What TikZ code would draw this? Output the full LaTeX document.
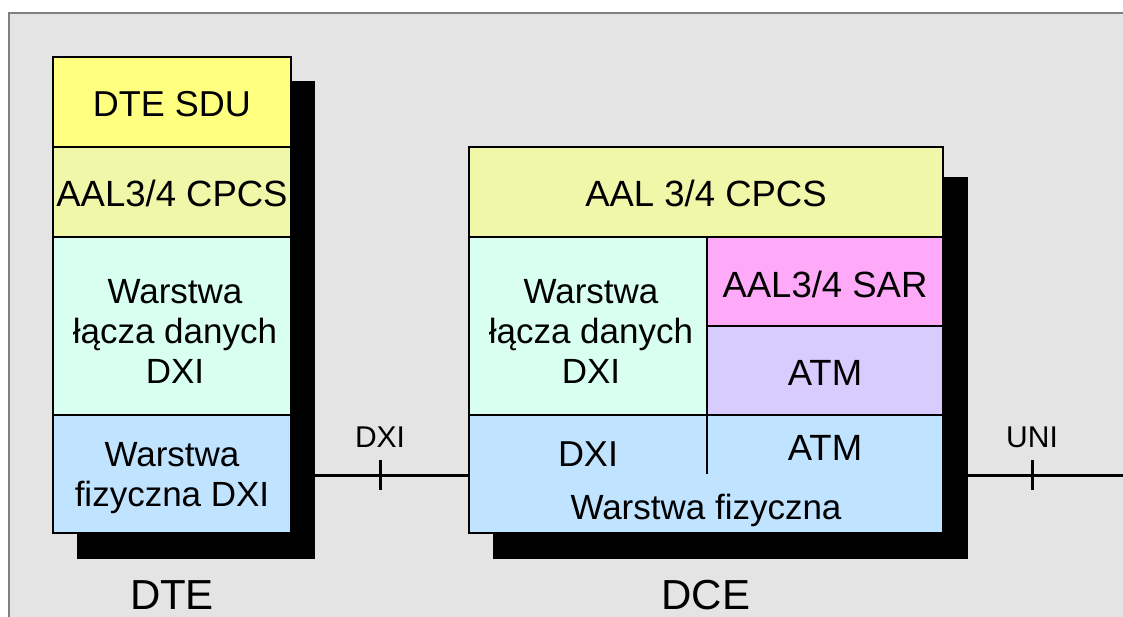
\documentclass[tikz,border=0pt]{standalone}
\usepackage{fontspec}
\setmainfont{Liberation Sans}
\definecolor{bggray}{HTML}{E4E4E4}
\definecolor{framegray}{HTML}{808080}
\definecolor{sducol}{HTML}{FFFF80}
\definecolor{cpcscol}{HTML}{F0F7A8}
\definecolor{mintcol}{HTML}{D8FFF0}
\definecolor{bluecol}{HTML}{C0E4FF}
\definecolor{sarcol}{HTML}{FFAAF8}
\definecolor{atmcol}{HTML}{D8CCFF}
\tikzset{
  layer/.style={draw=black, line width=2.5pt, rectangle, inner sep=0pt, align=center,
    font=\fontsize{36.5}{42}\selectfont},
  shadowbox/.style={fill=black, draw=none, rectangle, inner sep=0pt},
  lbl/.style={inner sep=0pt, align=center, font=\fontsize{35}{40}\selectfont},
  small/.style={inner sep=0pt, font=\fontsize{30}{34}\selectfont},
  big/.style={inner sep=0pt, font=\fontsize{42}{48}\selectfont},
  wire/.style={line width=3pt, black}
}
\begin{document}
\begin{tikzpicture}[x=1pt,y=-1pt]
\useasboundingbox (0,0) rectangle (1123,616);
% frame
\fill[white] (0,0) rectangle (1123,616);
\fill[bggray] (9,13) rectangle (1130,620);
\draw[framegray, line width=1.2pt] (9,620) -- (9,13) -- (1130,13);
% shadows
\node[shadowbox, minimum width=238, minimum height=478] (dtesh) at (196,320) {};
\node[shadowbox, minimum width=475, minimum height=382] (dcesh) at (730.5,368) {};
% DTE stack
\node[layer, fill=sducol, minimum width=238, minimum height=90] (sdu) at (172,102) {};
\node[layer, fill=cpcscol, minimum width=238, minimum height=90] (cpcs1) at (172,192) {};
\node[layer, fill=mintcol, minimum width=238, minimum height=178] (dll1) at (172,326) {};
\node[layer, fill=bluecol, minimum width=238, minimum height=118] (phy1) at (172,474) {};
\node[lbl, font=\fontsize{36}{42}\selectfont] (sdut) at (172,104) {DTE SDU};
\node[lbl, font=\fontsize{36.5}{42}\selectfont] (cpcs1t) at (172,193) {AAL3/4 CPCS};
\node[lbl] (dll1t) at (175,331) {Warstwa\\łącza danych\\DXI};
\node[lbl] (phy1t) at (172,478) {Warstwa\\fizyczna DXI};
% DCE stack
\node[layer, fill=cpcscol, minimum width=474, minimum height=90] (cpcs2) at (706,192) {};
\node[layer, fill=bluecol, minimum width=474, minimum height=118] (phy2) at (706,474) {};
\node[layer, fill=mintcol, minimum width=238, minimum height=178] (dll2) at (588,326) {};
\node[layer, fill=sarcol, minimum width=236, minimum height=89] (sar) at (825,281.5) {};
\node[layer, fill=atmcol, minimum width=236, minimum height=89] (atm1) at (825,370.5) {};
\node[lbl, font=\fontsize{36.5}{42}\selectfont] (cpcs2t) at (706,193) {AAL 3/4 CPCS};
\node[lbl, font=\fontsize{36.5}{42}\selectfont] (sart) at (825,284) {AAL3/4 SAR};
\node[lbl, font=\fontsize{36.5}{42}\selectfont] (atm1t) at (825,373) {ATM};
\node[lbl] (dll2t) at (591,331) {Warstwa\\łącza danych\\DXI};
\coordinate (divtop) at (707,415);
\coordinate (divbot) at (707,474);
\draw[line width=2.5pt] (divtop) -- (divbot);
\node[lbl, font=\fontsize{36}{42}\selectfont] (dxi2) at (588,454) {DXI};
\node[lbl, font=\fontsize{36.5}{42}\selectfont] (atm2) at (825,448) {ATM};
\node[lbl] (phyt) at (706,510) {Warstwa fizyczna};
% connectors
\coordinate (dxiTick) at (380,475);
\coordinate (uniTick) at (1032,475);
\coordinate (uniEnd) at (1123,475);
\draw[wire] (dtesh.east |- dxiTick) -- (phy2.west |- dxiTick);
\draw[wire] ([yshift=-15pt]dxiTick) -- ([yshift=15pt]dxiTick);
\draw[wire] (dcesh.east |- uniTick) -- (uniEnd);
\draw[wire] ([yshift=-15pt]uniTick) -- ([yshift=15pt]uniTick);
\node[small] (dxil) at (380,437) {DXI};
\node[small] (unil) at (1032,437) {UNI};
% titles
\node[big, anchor=base] (dtel) at (172,609) {DTE};
\node[big, anchor=base] (dcel) at (706,609) {DCE};
\end{tikzpicture}
\end{document}
